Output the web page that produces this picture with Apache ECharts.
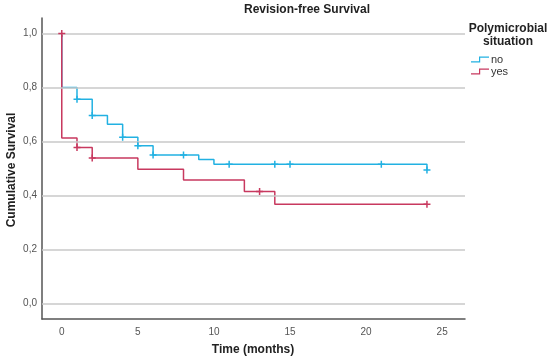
<!DOCTYPE html>
<html>
<head>
<meta charset="utf-8">
<script src="https://cdn.jsdelivr.net/npm/echarts@6/dist/echarts.min.js"></script>
<style>html,body{margin:0;padding:0;background:#fff;}#c{width:550px;height:363px;}</style>
</head>
<body>
<div id="c"></div>
<script>
// Kaplan-Meier step data (event times and survival after the event)
const noTimes = [0, 0, 1, 2, 3, 4, 5, 6, 9, 10, 24];
const noSurv  = [1, 0.8, 0.756, 0.696, 0.664, 0.616, 0.584, 0.550, 0.533, 0.516, 0.494];
const noEnd = 24;
const noCensorT = [1, 2, 4, 5, 6, 8, 11, 14, 15, 21, 24];
const noCensorS = [0.756, 0.696, 0.616, 0.584, 0.550, 0.550, 0.516, 0.516, 0.516, 0.516, 0.494];

const yesTimes = [0, 0, 1, 2, 5, 8, 12, 14];
const yesSurv  = [1, 0.613, 0.578, 0.539, 0.497, 0.457, 0.415, 0.368];
const yesEnd = 24;
const yesCensorT = [0, 1, 2, 13, 24];
const yesCensorS = [1.0, 0.578, 0.539, 0.415, 0.368];

const xTicks = [0, 5, 10, 15, 20, 25];
const yTicks = [0, 0.2, 0.4, 0.6, 0.8, 1.0];

const groupNames = ['no', 'yes'];
const colors = ['#22b1e2', '#c8395f'];

function stepPath(times, surv, end) {
  const pts = [[times[0], surv[0]]];
  for (let i = 1; i < times.length; i++) {
    pts.push([times[i], surv[i - 1]]);
    pts.push([times[i], surv[i]]);
  }
  pts.push([end, surv[surv.length - 1]]);
  return pts;
}
function zip(a, b) { return a.map((v, i) => [v, b[i]]); }

const font = '"Liberation Sans", Arial, sans-serif';
const plusPath = 'path://M-0.75,-3.5H0.75V3.5H-0.75Z M-3.5,-0.75H3.5V0.75H-3.5Z';
const stepIcon = 'path://M0,4.8H8V0H18V1.2H9.2V6H0Z';

const chart = echarts.init(document.getElementById('c'), null, {renderer: 'canvas'});
chart.setOption({
  animation: false,
  backgroundColor: '#fff',
  textStyle: {fontFamily: font},
  grid: {left: 42, right: 85, top: 18, bottom: 44, containLabel: false},
  xAxis: {
    type: 'value', min: -1.3, max: 26.5,
    axisLine: {show: true, onZero: false, lineStyle: {color: '#555', width: 1.5}},
    axisTick: {show: false},
    splitLine: {show: false},
    axisLabel: {customValues: xTicks, color: '#555', fontSize: 10, margin: 8, fontFamily: font}
  },
  yAxis: {
    type: 'value', min: -0.057, max: 1.057,
    axisLine: {show: true, onZero: false, lineStyle: {color: '#555', width: 1.5}},
    axisTick: {show: false},
    splitLine: {show: false},
    axisLabel: {customValues: yTicks, color: '#555', fontSize: 10, margin: 5, fontFamily: font,
      formatter: v => v.toFixed(1).replace('.', ',')}
  },
  legend: {
    orient: 'vertical', left: 466, top: 49,
    data: groupNames, icon: stepIcon,
    itemWidth: 18, itemHeight: 6, itemGap: 1,
    textStyle: {fontSize: 11, color: '#333', fontFamily: font, padding: [0, 0, 0, -3]},
    selectedMode: false
  },
  graphic: [
    {type: 'text', x: 307, y: 10, style: {text: 'Revision-free Survival', font: 'bold 12px ' + font, fill: '#222', textAlign: 'center', textVerticalAlign: 'middle'}},
    {type: 'text', x: 253, y: 350, style: {text: 'Time (months)', font: 'bold 12px ' + font, fill: '#222', textAlign: 'center', textVerticalAlign: 'middle'}},
    {type: 'text', x: 12, y: 170, rotation: Math.PI / 2, style: {text: 'Cumulative Survival', font: 'bold 12px ' + font, fill: '#222', textAlign: 'center', textVerticalAlign: 'middle'}},
    {type: 'text', x: 508, y: 29, style: {text: 'Polymicrobial', font: 'bold 12px ' + font, fill: '#222', textAlign: 'center', textVerticalAlign: 'middle'}},
    {type: 'text', x: 508, y: 42, style: {text: 'situation', font: 'bold 12px ' + font, fill: '#222', textAlign: 'center', textVerticalAlign: 'middle'}}
  ],
  series: [
    {
      name: 'grid', type: 'line', data: [], z: 1, silent: true,
      markLine: {
        silent: true, symbol: ['none', 'none'], label: {show: false},
        lineStyle: {color: '#c9c9c9', width: 1.5, type: 'solid'},
        data: yTicks.map(v => ({yAxis: v}))
      }
    },
    {
      name: groupNames[0], type: 'line', z: 3, showSymbol: false, symbol: 'none',
      data: stepPath(noTimes, noSurv, noEnd),
      lineStyle: {color: colors[0], width: 1.5}, itemStyle: {color: colors[0]}
    },
    {
      name: groupNames[1], type: 'line', z: 4, showSymbol: false, symbol: 'none',
      data: stepPath(yesTimes, yesSurv, yesEnd),
      lineStyle: {color: colors[1], width: 1.5}, itemStyle: {color: colors[1]}
    },
    {
      name: 'no censored', type: 'scatter', z: 5, symbol: plusPath, symbolSize: 7,
      data: zip(noCensorT, noCensorS), itemStyle: {color: colors[0], opacity: 1}
    },
    {
      name: 'yes censored', type: 'scatter', z: 5, symbol: plusPath, symbolSize: 7,
      data: zip(yesCensorT, yesCensorS), itemStyle: {color: colors[1], opacity: 1}
    }
  ]
});
</script>
</body>
</html>
